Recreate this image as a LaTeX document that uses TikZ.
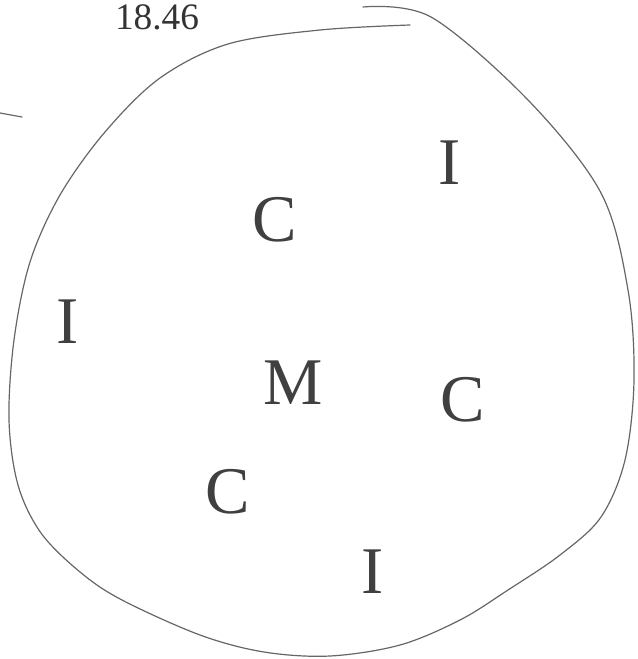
\documentclass[tikz,border=0pt]{standalone}
\usepackage{fontspec}
\setmainfont{Liberation Serif}
\begin{document}
\begin{tikzpicture}[x=0.75pt,y=-0.75pt,
  stroke/.style={draw=black!60, line width=0.9pt, line cap=round, line join=round},
  letter/.style={text=black!75, font=\fontsize{50}{50}\selectfont, inner sep=0pt},
  label/.style={text=black!80, font=\fontsize{28}{28}\selectfont, inner sep=0pt}]
\useasboundingbox (0,0) rectangle (637,659);
% outline (open hand-drawn loop)
\draw[stroke] plot[smooth, tension=0.55] coordinates {
  (410,25) (320,30) (228,44) (160,78) (105,132) (60,195) (30,262)
  (14,340) (9,420) (18,485) (41,533) (80,572) (122,600) (200,635)
  (264,652) (330,656) (400,645) (460,620) (508,590) (560,555)
  (601,517) (625,460) (634,380) (628,290) (601,193) (528,100)
  (431,17) (363,7)};
% stray mark
\coordinate (m1) at (0,113);
\coordinate (m2) at (22,117);
\draw[stroke] (m1) -- (m2);
% label at top
\node[label, anchor=base] (num) at (157,30) {18.46};
% letters
\node[letter] (i1) at (450,163) {I};
\node[letter] (c1) at (275,220) {C};
\node[letter] (i2) at (68,322) {I};
\node[letter] (m) at (293,383) {M};
\node[letter] (c2) at (463,400) {C};
\node[letter] (c3) at (228,492) {C};
\node[letter] (i3) at (373,572) {I};
\end{tikzpicture}
\end{document}
